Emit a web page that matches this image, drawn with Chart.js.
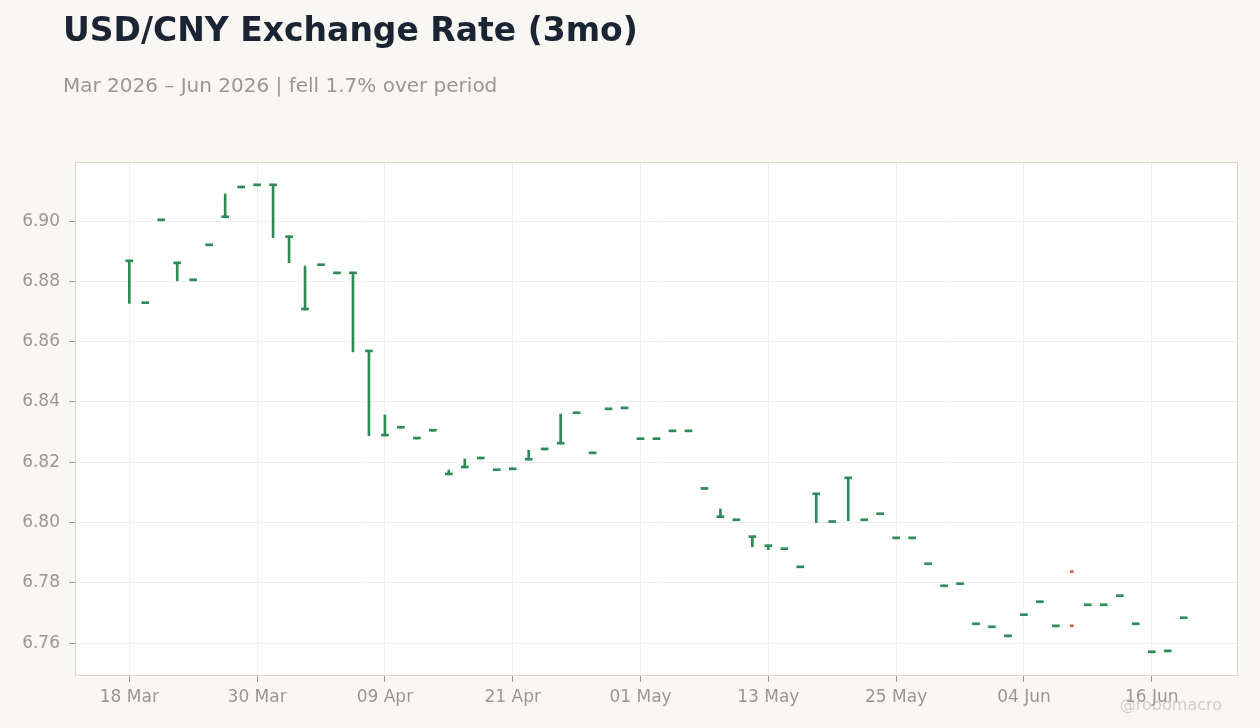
<!DOCTYPE html>
<html>
<head>
<meta charset="utf-8">
<script src="https://cdn.jsdelivr.net/npm/chart.js@4.4.1/dist/chart.umd.min.js"></script>
<style>
  html, body { margin: 0; padding: 0; background: #f8f7f4; }
  #wrap { position: relative; width: 1260px; height: 728px; }
</style>
</head>
<body>
<div id="wrap"><canvas id="chart" width="1260" height="728"></canvas></div>
<script>
// Business days, 18 Mar 2026 – 18 Jun 2026
const DATES = [
  '18 Mar', '19 Mar', '20 Mar', '23 Mar', '24 Mar', '25 Mar', '26 Mar', '27 Mar', '30 Mar', '31 Mar',
  '01 Apr', '02 Apr', '03 Apr', '06 Apr', '07 Apr', '08 Apr', '09 Apr', '10 Apr', '13 Apr', '14 Apr',
  '15 Apr', '16 Apr', '17 Apr', '20 Apr', '21 Apr', '22 Apr', '23 Apr', '24 Apr', '27 Apr', '28 Apr',
  '29 Apr', '30 Apr', '01 May', '04 May', '05 May', '06 May', '07 May', '08 May', '11 May', '12 May',
  '13 May', '14 May', '15 May', '18 May', '19 May', '20 May', '21 May', '22 May', '25 May', '26 May',
  '27 May', '28 May', '29 May', '01 Jun', '02 Jun', '03 Jun', '04 Jun', '05 Jun', '08 Jun', '09 Jun',
  '10 Jun', '11 Jun', '12 Jun', '15 Jun', '16 Jun', '17 Jun', '18 Jun'
];

const OPEN = [
  6.8865, 6.8726, 6.9001, 6.8858, 6.8802, 6.8918, 6.9011, 6.9110, 6.9117, 6.9117,
  6.8945, 6.8705, 6.8852, 6.8825, 6.8825, 6.8566, 6.8287, 6.8313, 6.8277, 6.8303,
  6.8158, 6.8181, 6.8211, 6.8172, 6.8175, 6.8207, 6.8241, 6.8260, 6.8361, 6.8228,
  6.8374, 6.8377, 6.8275, 6.8275, 6.8301, 6.8301, 6.8110, 6.8016, 6.8006, 6.7950,
  6.7920, 6.7910, 6.7850, 6.8092, 6.8000, 6.8145, 6.8006, 6.8026, 6.7946, 6.7946,
  6.7860, 6.7787, 6.7794, 6.7661, 6.7651, 6.7621, 6.7691, 6.7734, 6.7654, 6.7834,
  6.7724, 6.7724, 6.7754, 6.7661, 6.7568, 6.7571, 6.7681
];

const HIGH = [
  6.8865, 6.8726, 6.9001, 6.8858, 6.8802, 6.8918, 6.9090, 6.9110, 6.9117, 6.9117,
  6.8945, 6.8851, 6.8852, 6.8825, 6.8825, 6.8566, 6.8357, 6.8313, 6.8277, 6.8303,
  6.8174, 6.8211, 6.8211, 6.8172, 6.8175, 6.8240, 6.8241, 6.8360, 6.8361, 6.8228,
  6.8374, 6.8377, 6.8275, 6.8275, 6.8301, 6.8301, 6.8110, 6.8045, 6.8006, 6.7950,
  6.7920, 6.7910, 6.7850, 6.8092, 6.8000, 6.8145, 6.8006, 6.8026, 6.7946, 6.7946,
  6.7860, 6.7792, 6.7794, 6.7661, 6.7651, 6.7621, 6.7691, 6.7734, 6.7654, null,
  6.7724, 6.7724, 6.7754, 6.7661, 6.7568, 6.7571, 6.7681
];

const LOW = [
  6.8727, 6.8726, 6.9001, 6.8802, 6.8802, 6.8918, 6.9011, 6.9110, 6.9117, 6.8945,
  6.8862, 6.8705, 6.8852, 6.8825, 6.8566, 6.8288, 6.8287, 6.8313, 6.8277, 6.8303,
  6.8158, 6.8181, 6.8211, 6.8172, 6.8175, 6.8207, 6.8241, 6.8260, 6.8361, 6.8228,
  6.8374, 6.8377, 6.8275, 6.8275, 6.8301, 6.8301, 6.8110, 6.8016, 6.8006, 6.7920,
  6.7910, 6.7910, 6.7850, 6.8000, 6.8000, 6.8006, 6.8006, 6.8026, 6.7946, 6.7946,
  6.7860, 6.7787, 6.7794, 6.7661, 6.7651, 6.7621, 6.7691, 6.7734, 6.7654, null,
  6.7724, 6.7724, 6.7754, 6.7661, 6.7568, 6.7571, 6.7681
];

const CLOSE = [
  6.8865, 6.8726, 6.9001, 6.8858, 6.8802, 6.8918, 6.9011, 6.9110, 6.9117, 6.9117,
  6.8945, 6.8705, 6.8852, 6.8825, 6.8825, 6.8566, 6.8287, 6.8313, 6.8277, 6.8303,
  6.8158, 6.8181, 6.8211, 6.8172, 6.8175, 6.8207, 6.8241, 6.8260, 6.8361, 6.8228,
  6.8374, 6.8377, 6.8275, 6.8275, 6.8301, 6.8301, 6.8110, 6.8016, 6.8006, 6.7950,
  6.7920, 6.7910, 6.7850, 6.8092, 6.8000, 6.8145, 6.8006, 6.8026, 6.7946, 6.7946,
  6.7860, 6.7787, 6.7794, 6.7661, 6.7651, 6.7621, 6.7691, 6.7734, 6.7654, 6.7654,
  6.7724, 6.7724, 6.7754, 6.7661, 6.7568, 6.7571, 6.7681
];

// Tick positions (category index) and y tick values
const X_TICKS = [0, 8, 16, 24, 32, 40, 48, 56, 64];
const Y_TICKS = [6.76, 6.78, 6.80, 6.82, 6.84, 6.86, 6.88, 6.90];

const UP = '#2e8b57';
const DOWN = '#d4603f';
const FONT = 'DejaVu Sans';

// Build the floating bar data from the OHLC arrays
const wicks = [];
const bodies = [];
const downMarks = [];
DATES.forEach((d, i) => {
  if (HIGH[i] !== null && LOW[i] !== null) {
    wicks.push({ x: i, y: [LOW[i], HIGH[i]] });
  }
  if (CLOSE[i] >= OPEN[i]) {
    bodies.push({ x: i, y: [OPEN[i], CLOSE[i]] });
  } else {
    downMarks.push({ x: i, y: [OPEN[i], OPEN[i]] });
    downMarks.push({ x: i, y: [CLOSE[i], CLOSE[i]] });
  }
});

// Page background, white plot area with frame, titles and watermark
const decor = {
  id: 'decor',
  beforeDraw(chart) {
    const { ctx, chartArea: a } = chart;
    ctx.save();
    ctx.fillStyle = '#f8f7f4';
    ctx.fillRect(0, 0, chart.width, chart.height);
    ctx.fillStyle = '#ffffff';
    ctx.fillRect(a.left, a.top, a.right - a.left, a.bottom - a.top);
    ctx.fillStyle = '#1b2433';
    ctx.font = 'bold 33px "' + FONT + '"';
    ctx.textBaseline = 'alphabetic';
    ctx.textAlign = 'left';
    ctx.fillText('USD/CNY Exchange Rate (3mo)', 63, 41);
    ctx.fillStyle = '#9b968f';
    ctx.font = '20px "' + FONT + '"';
    ctx.fillText('Mar 2026 – Jun 2026 | fell 1.7% over period', 63, 92);
    ctx.restore();
  },
  beforeDatasetsDraw(chart) {
    const { ctx, chartArea: a } = chart;
    ctx.save();
    ctx.strokeStyle = '#dcd7cf';
    ctx.lineWidth = 1;
    ctx.strokeRect(a.left + 0.5, a.top + 0.5, a.right - a.left - 1, a.bottom - a.top - 1);
    ctx.restore();
  },
  afterDraw(chart) {
    const { ctx } = chart;
    ctx.save();
    ctx.fillStyle = 'rgba(175, 170, 162, 0.55)';
    ctx.font = '16px "' + FONT + '"';
    ctx.textAlign = 'right';
    ctx.textBaseline = 'alphabetic';
    ctx.fillText('@robomacro', 1222, 710);
    ctx.restore();
  }
};

new Chart(document.getElementById('chart'), {
  type: 'bar',
  data: {
    datasets: [
      { data: bodies, backgroundColor: UP, barThickness: 7, minBarLength: 2 },
      { data: downMarks, backgroundColor: DOWN, barThickness: 3, minBarLength: 2 },
      { data: wicks, backgroundColor: UP, barThickness: 2, minBarLength: 0 }
    ]
  },
  options: {
    responsive: false,
    animation: false,
    layout: { padding: { top: 162, right: 22, bottom: 0, left: 0 } },
    datasets: { bar: { grouped: false, borderWidth: 0 } },
    plugins: {
      legend: { display: false },
      tooltip: { enabled: false }
    },
    scales: {
      x: {
        type: 'linear',
        offset: false,
        min: -3.4,
        max: 69.4,
        afterBuildTicks: (s) => { s.ticks = X_TICKS.map(v => ({ value: v })); },
        afterFit: (s) => { s.height = 52; },
        ticks: {
          autoSkip: false,
          maxRotation: 0,
          padding: 5,
          color: '#9b968f',
          font: { family: FONT, size: 17 },
          callback: (v) => DATES[v]
        },
        grid: { offset: false, color: '#efefef', tickColor: '#9b968f', tickLength: 6 },
        border: { display: false }
      },
      y: {
        min: 6.7491,
        max: 6.9196,
        afterBuildTicks: (s) => { s.ticks = Y_TICKS.map(v => ({ value: v })); },
        afterFit: (s) => { s.width = 75; },
        ticks: {
          padding: 9,
          color: '#9b968f',
          font: { family: FONT, size: 17 },
          callback: (v) => v.toFixed(2)
        },
        grid: { color: '#efefef', tickColor: '#9b968f', tickLength: 6 },
        border: { display: false }
      }
    }
  },
  plugins: [decor]
});
</script>
</body>
</html>
